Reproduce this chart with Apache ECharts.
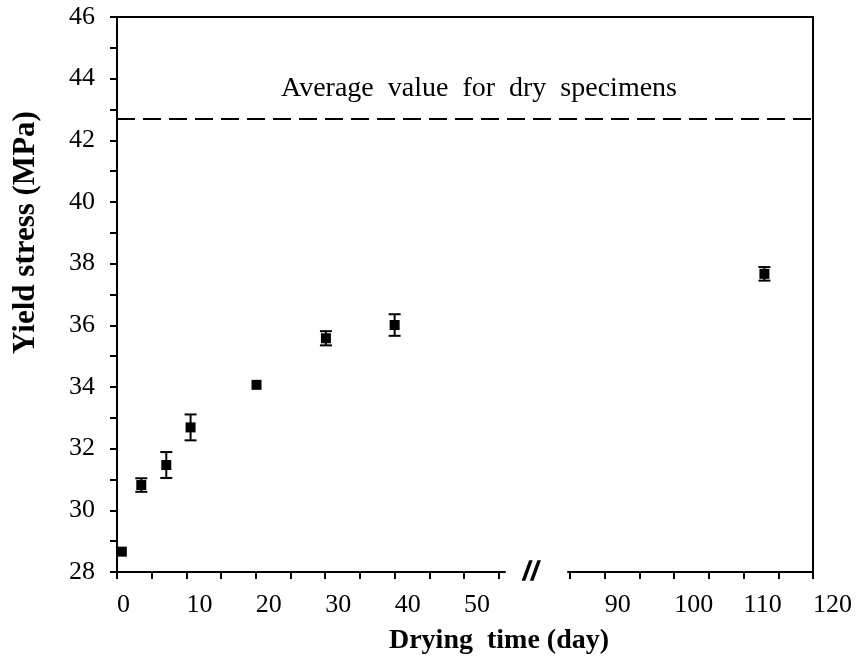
<!DOCTYPE html>
<html>
<head>
<meta charset="utf-8">
<script src="https://cdn.jsdelivr.net/npm/echarts@6/dist/echarts.min.js"></script>
<style>
  html, body { margin: 0; padding: 0; background: #fff; }
  #chart { width: 862px; height: 657px; }
</style>
</head>
<body>
<div id="chart"></div>
<script>
// Yield stress vs. drying time, with a broken time axis (56-85 days omitted)
const dryingDays   = [0.7, 3.5, 7.1, 10.6, 20.1, 30.1, 40.0, 113.0];
const yieldStress  = [28.66, 30.82, 31.47, 32.69, 34.07, 35.58, 36.01, 37.67];
const stressError  = [0, 0.22, 0.42, 0.42, 0, 0.23, 0.35, 0.22];
const dryAverage   = 42.7;

const leftTicks    = [0, 5, 10, 15, 20, 25, 30, 35, 40, 45, 50, 55];
const leftLabels   = [0, 10, 20, 30, 40, 50];
const rightTicks   = [85, 90, 95, 100, 105, 110, 115, 120];
const rightLabels  = [90, 100, 110, 120];

const BREAK_START = 55.9;
const BREAK_END = 84.7;

const SERIF = '"Liberation Serif", "Times New Roman", serif';
const INK = '#000';

const points = dryingDays.map((d, i) => [d, yieldStress[i], stressError[i]]);
const earlyPts = points.filter(p => p[0] <= BREAK_START);
const latePts = points.filter(p => p[0] >= BREAK_END);

function errorBars(params, api) {
  const x = api.value(0), y = api.value(1), e = api.value(2);
  if (!(e > 0)) return null;
  const top = api.coord([x, y + e]);
  const bot = api.coord([x, y - e]);
  const half = 6;
  const style = { stroke: INK, lineWidth: 2 };
  return {
    type: 'group',
    children: [
      { type: 'line', shape: { x1: top[0], y1: top[1], x2: bot[0], y2: bot[1] }, style },
      { type: 'line', shape: { x1: top[0] - half, y1: top[1], x2: top[0] + half, y2: top[1] }, style },
      { type: 'line', shape: { x1: bot[0] - half, y1: bot[1], x2: bot[0] + half, y2: bot[1] }, style }
    ]
  };
}

const tickFont = { color: INK, fontFamily: SERIF, fontSize: 26 };
const axisLine = { show: true, lineStyle: { color: INK, width: 2 } };

function timeAxis(gridIndex, min, max, ticks, labels, extra) {
  return Object.assign({
    type: 'value', gridIndex, min, max, position: 'bottom',
    axisLine,
    axisTick: { show: true, inside: false, length: 7, customValues: ticks, lineStyle: { color: INK, width: 2 } },
    axisLabel: Object.assign({ customValues: labels, align: 'left', margin: 20 }, tickFont),
    splitLine: { show: false }
  }, extra || {});
}

const chart = echarts.init(document.getElementById('chart'), null, { renderer: 'canvas' });

chart.setOption({
  animation: false,
  backgroundColor: '#fff',
  title: {
    text: 'Drying  time (day)',
    left: 494, top: 622, textAlign: 'center',
    textStyle: { fontFamily: SERIF, fontSize: 28, fontWeight: 'bold', color: INK }
  },
  grid: [
    { left: 117, top: 17, width: 388, height: 555, containLabel: false },
    { left: 568, top: 17, width: 245, height: 555, containLabel: false },
    { left: 117, top: 17, width: 696, height: 555, containLabel: false }
  ],
  xAxis: [
    timeAxis(0, 0, BREAK_START, leftTicks, leftLabels, {
      name: '//', nameLocation: 'end', nameGap: 18,
      nameTextStyle: {
        fontFamily: SERIF, fontSize: 30, fontWeight: 'bold', color: INK,
        textBorderColor: INK, textBorderWidth: 1.5
      }
    }),
    timeAxis(1, BREAK_END, 120, rightTicks, rightLabels),
    {
      type: 'value', gridIndex: 2, min: 0, max: 1, position: 'top',
      axisLine, axisTick: { show: false }, axisLabel: { show: false }, splitLine: { show: false }
    }
  ],
  yAxis: [
    {
      type: 'value', gridIndex: 0, min: 28, max: 46, interval: 2,
      axisLine,
      axisTick: { show: true, inside: false, length: 7, lineStyle: { color: INK, width: 2 } },
      minorTick: { show: true, splitNumber: 2, length: 7, lineStyle: { color: INK, width: 2 } },
      axisLabel: Object.assign({ margin: 22 }, tickFont),
      splitLine: { show: false },
      minorSplitLine: { show: false },
      name: 'Yield stress (MPa)', nameLocation: 'middle', nameGap: 76, nameRotate: 90,
      nameTextStyle: { fontFamily: SERIF, fontSize: 31, fontWeight: 'bold', color: INK, padding: [0, 0, 0, 124] }
    },
    {
      type: 'value', gridIndex: 1, min: 28, max: 46, position: 'right',
      axisLine, axisTick: { show: false }, axisLabel: { show: false }, splitLine: { show: false }
    },
    { type: 'value', gridIndex: 2, min: 28, max: 46, show: false }
  ],
  series: [
    {
      type: 'custom', xAxisIndex: 0, yAxisIndex: 0, renderItem: errorBars,
      data: earlyPts, z: 2, silent: true
    },
    {
      type: 'custom', xAxisIndex: 1, yAxisIndex: 1, renderItem: errorBars,
      data: latePts, z: 2, silent: true
    },
    {
      type: 'scatter', xAxisIndex: 0, yAxisIndex: 0, symbol: 'rect', symbolSize: 10,
      itemStyle: { color: INK, opacity: 1 }, data: earlyPts.map(p => [p[0], p[1]]), z: 3, silent: true
    },
    {
      type: 'scatter', xAxisIndex: 1, yAxisIndex: 1, symbol: 'rect', symbolSize: 10,
      itemStyle: { color: INK, opacity: 1 }, data: latePts.map(p => [p[0], p[1]]), z: 3, silent: true
    },
    {
      type: 'scatter', xAxisIndex: 2, yAxisIndex: 2, symbolSize: 0, data: [], silent: true,
      markLine: {
        silent: true, symbol: 'none',
        lineStyle: { color: INK, width: 2, type: [18, 8] },
        label: {
          show: true, position: 'insideMiddleTop', distance: 16,
          formatter: 'Average  value  for  dry  specimens',
          fontFamily: SERIF, fontSize: 28, color: INK, padding: [0, 0, 0, 28]
        },
        data: [{ yAxis: dryAverage }]
      }
    }
  ]
});
</script>
</body>
</html>
